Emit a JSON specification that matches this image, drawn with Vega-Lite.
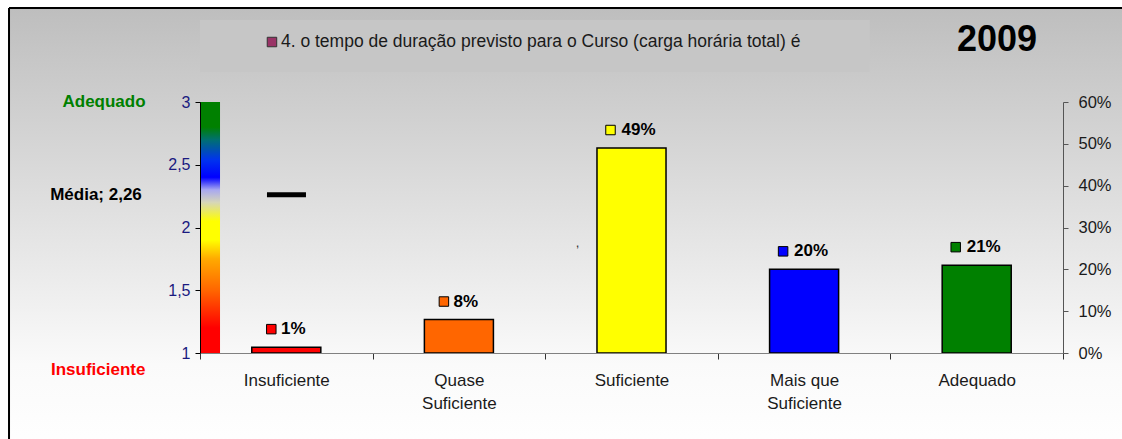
{
  "$schema": "https://vega.github.io/schema/vega-lite/v6.json",
  "width": 863,
  "height": 251,
  "autosize": "none",
  "padding": {"left": 200, "top": 102, "right": 59, "bottom": 86},
  "background": "white",
  "config": {
    "view": {"stroke": null},
    "font": "Liberation Sans",
    "axis": {"grid": false, "title": null, "labelFont": "Liberation Sans"}
  },
  "layer": [
    {
      "layer": [
        {
          "data": {"values": [{"x0": -0.2213, "x1": 1.3, "y0": 3.749, "y1": 0.2}]},
          "mark": {
            "type": "rect",
            "fill": {
              "gradient": "linear", "x1": 0, "y1": 0, "x2": 0, "y2": 1,
              "stops": [
                {"offset": 0, "color": "#bebebe"},
                {"offset": 0.8, "color": "#fafafa"},
                {"offset": 1, "color": "#ffffff"}
              ]
            }
          },
          "encoding": {
            "x": {"field": "x0", "type": "quantitative", "axis": null, "scale": {"domain": [0, 1], "nice": false, "zero": false}},
            "x2": {"field": "x1"},
            "y": {
              "field": "y0", "type": "quantitative",
              "scale": {"domain": [1, 3], "nice": false, "zero": false},
              "axis": {
                "orient": "left",
                "zindex": 2,
                "values": [1, 1.5, 2, 2.5, 3],
                "format": ".1~f",
                "labelExpr": "replace(datum.label, '.', ',')",
                "labelColor": "#1a1a80",
                "labelFontSize": 16,
                "labelPadding": 5,
                "domainColor": "#000000",
                "tickColor": "#000000",
                "tickSize": 5
              }
            },
            "y2": {"field": "y1"}
          }
        },
        {
          "data": {"values": [{"x0": -0.2213, "x1": 1.3, "y0": 3.749}]},
          "mark": {"type": "rule", "color": "#000000", "strokeWidth": 2},
          "encoding": {
            "x": {"field": "x0", "type": "quantitative", "axis": null},
            "x2": {"field": "x1"},
            "y": {"field": "y0", "type": "quantitative"}
          }
        },
        {
          "data": {"values": [{"x0": -0.2213, "y0": 3.749, "y1": 0.2}]},
          "mark": {"type": "rule", "color": "#000000", "strokeWidth": 2},
          "encoding": {
            "x": {"field": "x0", "type": "quantitative", "axis": null},
            "y": {"field": "y0", "type": "quantitative"},
            "y2": {"field": "y1"}
          }
        },
        {
          "data": {"values": [{"x0": 0, "x1": 0.776, "y0": 3.653, "y1": 3.239}]},
          "mark": {"type": "rect", "fill": "#c6c6c6"},
          "encoding": {
            "x": {"field": "x0", "type": "quantitative", "axis": null},
            "x2": {"field": "x1"},
            "y": {"field": "y0", "type": "quantitative"},
            "y2": {"field": "y1"}
          }
        },
        {
          "data": {"values": [{"x": 0.0834, "y": 3.478}]},
          "mark": {"type": "point", "shape": "square", "size": 90, "filled": true, "fill": "#993366", "stroke": "#333333", "strokeWidth": 1, "opacity": 1},
          "encoding": {
            "x": {"field": "x", "type": "quantitative", "axis": null},
            "y": {"field": "y", "type": "quantitative"}
          }
        },
        {
          "data": {"values": [{"x": 0.0938, "y": 3.478, "t": "4. o tempo de duração previsto para o Curso (carga horária total) é"}]},
          "mark": {"type": "text", "align": "left", "baseline": "middle", "fontSize": 17.5, "color": "#1a1a1a"},
          "encoding": {
            "x": {"field": "x", "type": "quantitative", "axis": null},
            "y": {"field": "y", "type": "quantitative"},
            "text": {"field": "t"}
          }
        },
        {
          "data": {"values": [{"x": 0.9235, "y": 3.494, "t": "2009"}]},
          "mark": {"type": "text", "align": "center", "baseline": "middle", "fontSize": 36, "fontWeight": "bold", "color": "#000000"},
          "encoding": {
            "x": {"field": "x", "type": "quantitative", "axis": null},
            "y": {"field": "y", "type": "quantitative"},
            "text": {"field": "t"}
          }
        },
        {
          "data": {"values": [
            {"x": -0.1112, "y": 3, "t": "Adequado", "k": "a"},
            {"x": -0.1205, "y": 2.26, "t": "Média; 2,26", "k": "m"},
            {"x": -0.118, "y": 0.865, "t": "Insuficiente", "k": "i"}
          ]},
          "mark": {"type": "text", "align": "center", "baseline": "middle", "fontSize": 17, "fontWeight": "bold"},
          "encoding": {
            "x": {"field": "x", "type": "quantitative", "axis": null},
            "y": {"field": "y", "type": "quantitative"},
            "text": {"field": "t"},
            "color": {"field": "k", "type": "nominal", "legend": null, "scale": {"domain": ["a", "m", "i"], "range": ["#008000", "#000000", "#ff0000"]}}
          }
        },
        {
          "data": {"values": [{"x": 0.4375, "y": 1.88, "t": ","}]},
          "mark": {"type": "text", "align": "center", "baseline": "middle", "fontSize": 13, "color": "#333333"},
          "encoding": {
            "x": {"field": "x", "type": "quantitative", "axis": null},
            "y": {"field": "y", "type": "quantitative"},
            "text": {"field": "t"}
          }
        },
        {
          "data": {"values": [{"x0": 0, "x1": 0.0232, "y0": 1, "y1": 3}]},
          "mark": {
            "type": "rect",
            "fill": {
              "gradient": "linear", "x1": 0, "y1": 1, "x2": 0, "y2": 0,
              "stops": [
                {"offset": 0, "color": "#ff0000"},
                {"offset": 0.1, "color": "#ff0000"},
                {"offset": 0.175, "color": "#ff3300"},
                {"offset": 0.25, "color": "#ff6600"},
                {"offset": 0.375, "color": "#ffaa00"},
                {"offset": 0.45, "color": "#ffff00"},
                {"offset": 0.525, "color": "#ffff00"},
                {"offset": 0.6, "color": "#d6d6b8"},
                {"offset": 0.65, "color": "#a8a8f0"},
                {"offset": 0.7, "color": "#0000ff"},
                {"offset": 0.77, "color": "#0033ee"},
                {"offset": 0.85, "color": "#007070"},
                {"offset": 0.9, "color": "#008000"},
                {"offset": 1, "color": "#008000"}
              ]
            }
          },
          "encoding": {
            "x": {"field": "x0", "type": "quantitative", "axis": null},
            "x2": {"field": "x1"},
            "y": {"field": "y0", "type": "quantitative"},
            "y2": {"field": "y1"}
          }
        },
        {
          "data": {"values": [{"x0": 0.0776, "x1": 0.1228, "media": 2.26}]},
          "mark": {"type": "rule", "color": "#000000", "strokeWidth": 5},
          "encoding": {
            "x": {"field": "x0", "type": "quantitative", "axis": null},
            "x2": {"field": "x1"},
            "y": {"field": "media", "type": "quantitative"}
          }
        }
      ]
    },
    {
      "data": {"values": [
        {"categoria": "Insuficiente", "pct": 0.014, "rotulo": "1%"},
        {"categoria": "Quase Suficiente", "pct": 0.08, "rotulo": "8%"},
        {"categoria": "Suficiente", "pct": 0.49, "rotulo": "49%"},
        {"categoria": "Mais que Suficiente", "pct": 0.20, "rotulo": "20%"},
        {"categoria": "Adequado", "pct": 0.21, "rotulo": "21%"}
      ]},
      "encoding": {
        "x": {
          "field": "categoria", "type": "nominal", "sort": null,
          "scale": {"paddingInner": 0, "paddingOuter": 0},
          "axis": {
            "orient": "bottom",
            "zindex": 2,
            "tickBand": "extent",
            "labelAngle": 0,
            "labelExpr": "datum.value == 'Quase Suficiente' ? ['Quase', 'Suficiente'] : datum.value == 'Mais que Suficiente' ? ['Mais que', 'Suficiente'] : datum.value",
            "labelFontSize": 17,
            "labelColor": "#1a1a1a",
            "labelPadding": 13,
            "labelLineHeight": 23,
            "domainColor": "#808080",
            "tickColor": "#333333",
            "tickSize": 6
          }
        },
        "y": {
          "field": "pct", "type": "quantitative",
          "scale": {"domain": [0, 0.6], "nice": false},
          "axis": {
            "orient": "right",
            "zindex": 2,
            "values": [0, 0.1, 0.2, 0.3, 0.4, 0.5, 0.6],
            "format": ".0%",
            "labelFontSize": 16.5,
            "labelColor": "#1a1a1a",
            "labelPadding": 10,
            "domainColor": "#555555",
            "tickColor": "#555555",
            "tickSize": 5
          }
        },
        "color": {
          "field": "categoria", "type": "nominal", "legend": null,
          "scale": {
            "domain": ["Insuficiente", "Quase Suficiente", "Suficiente", "Mais que Suficiente", "Adequado"],
            "range": ["#ff0000", "#ff6600", "#ffff00", "#0000ff", "#008000"]
          }
        }
      },
      "layer": [
        {"mark": {"type": "bar", "width": {"band": 0.4}, "stroke": "#000000", "strokeWidth": 1.5}},
        {
          "mark": {
            "type": "point", "shape": "square", "size": 90, "filled": true, "opacity": 1,
            "stroke": "#000000", "strokeWidth": 1, "yOffset": -18,
            "xOffset": {"expr": "length(datum.rotulo) > 2 ? -21 : -15"}
          }
        },
        {
          "mark": {"type": "text", "align": "center", "baseline": "middle", "fontSize": 17, "fontWeight": "bold", "yOffset": -18, "xOffset": 7, "color": "#000000"},
          "encoding": {"text": {"field": "rotulo"}, "color": {"value": "#000000"}}
        }
      ]
    }
  ],
  "resolve": {"scale": {"x": "independent", "y": "independent", "color": "independent"}}
}
